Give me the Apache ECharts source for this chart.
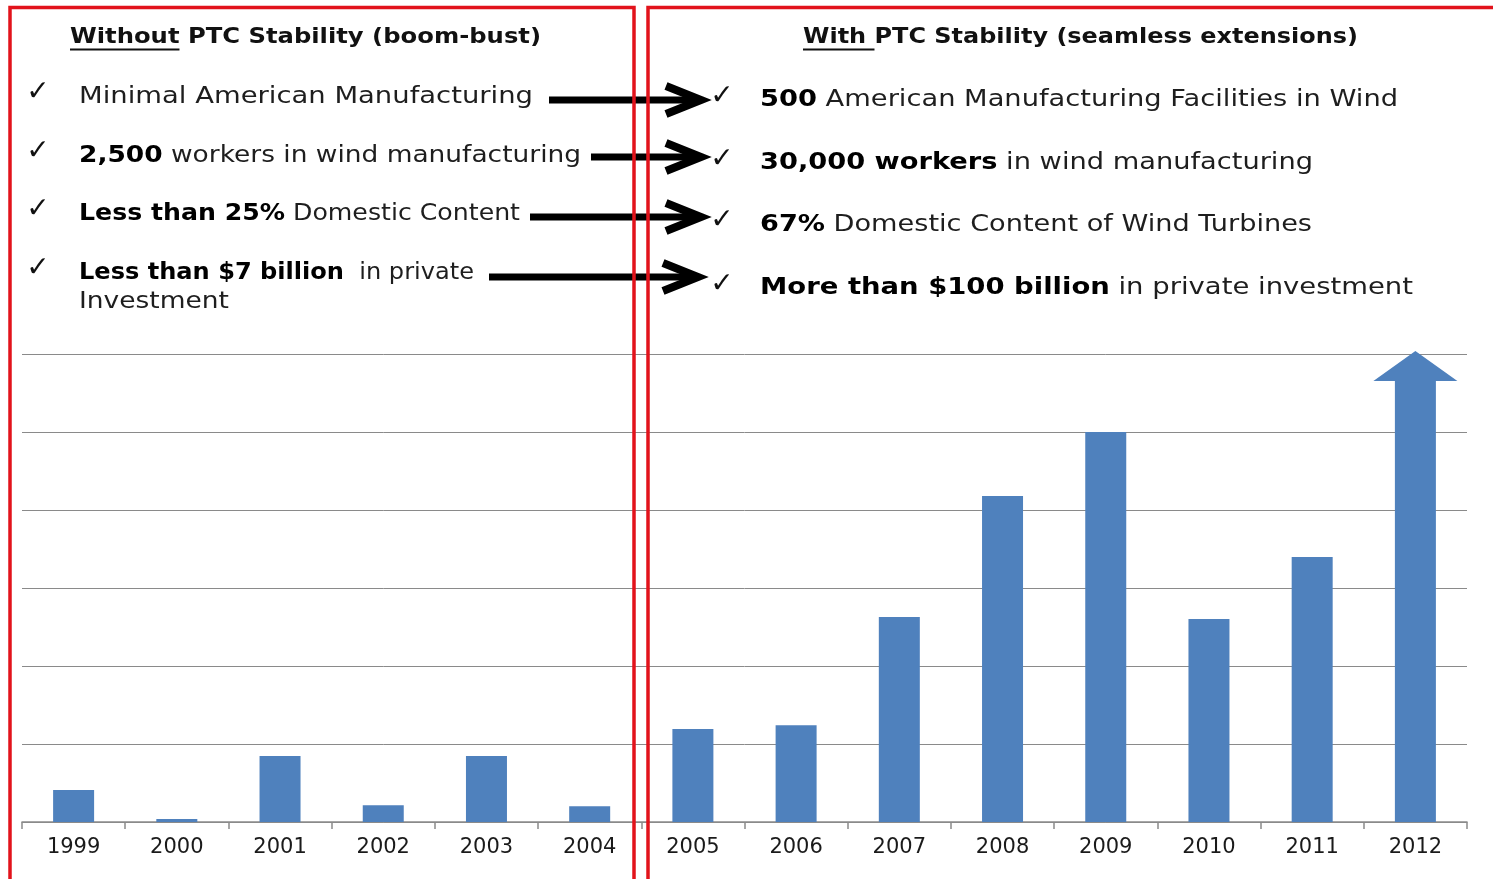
<!DOCTYPE html>
<html>
<head>
<meta charset="utf-8">
<title>Wind manufacturing and PTC stability</title>
<script src="https://cdn.jsdelivr.net/npm/echarts@6/dist/echarts.min.js"></script>
<style>
  html, body { margin: 0; padding: 0; background: #ffffff; }
  #chart { width: 1493px; height: 879px; }
</style>
</head>
<body>
<div id="chart"></div>
<script>
// Annual US wind capacity installed (MW), by year
const years = ['1999', '2000', '2001', '2002', '2003', '2004', '2005', '2006', '2007', '2008', '2009', '2010', '2011', '2012'];
const installedMW = [820, 77, 1692, 430, 1692, 405, 2385, 2480, 5256, 8359, 10000, 5205, 6795, 12080];
// The last year is drawn as an upward arrow instead of a plain bar
const arrowYear = '2012';
const yTicks = { min: 0, max: 12000, interval: 2000 };

// Bullet texts: [text, bold, underlined] segments per line
const leftTitle = [['Without', true, true], [' PTC Stability (boom-bust)', true]];
const rightTitle = [['With ', true, true], ['PTC Stability (seamless extensions)', true]];
const leftBullets = [
  [['Minimal American Manufacturing', false]],
  [['2,500', true], [' workers in wind manufacturing', false]],
  [['Less than 25%', true], [' Domestic Content', false]],
  [['Less than $7 billion', true], ['  in private', false]]
];
const leftWrap = [['Investment', false]];
const rightBullets = [
  [['500', true], [' American Manufacturing Facilities in Wind', false]],
  [['30,000 workers', true], [' in wind manufacturing', false]],
  [['67%', true], [' Domestic Content of Wind Turbines', false]],
  [['More than $100 billion', true], [' in private investment', false]]
];

const FONT = '"DejaVu Sans", Verdana, sans-serif';
const measureCtx = document.createElement('canvas').getContext('2d');
function segWidth(text, size, bold) {
  measureCtx.font = (bold ? 'bold ' : '') + size + 'px ' + FONT;
  return measureCtx.measureText(text).width;
}

const graphics = [];

// A line of mixed bold/regular text, stretched horizontally to span [x, right]
function textLine(x, y, right, segs, size, colorN, colorB) {
  let w = 0;
  let str = '';
  segs.forEach(s => { w += segWidth(s[0], size, s[1]); str += '{' + (s[1] ? 'b' : 'n') + '|' + s[0] + '}'; });
  const sx = (right - x) / w;
  graphics.push({
    type: 'text', x: x, y: y, scaleX: sx, z: 20,
    style: {
      text: str, x: 0, y: 0, align: 'left', verticalAlign: 'middle',
      rich: {
        b: { fontFamily: FONT, fontSize: size, fontWeight: 'bold', fill: colorB },
        n: { fontFamily: FONT, fontSize: size, fontWeight: 'normal', fill: colorN }
      }
    }
  });
  // underline for flagged segments
  let cx = x;
  segs.forEach(s => {
    const sw = segWidth(s[0], size, s[1]) * sx;
    if (s[2]) {
      graphics.push({ type: 'line', z: 20, shape: { x1: cx, y1: y + size * 0.55, x2: cx + sw, y2: y + size * 0.55 }, style: { stroke: '#111', lineWidth: 2 } });
    }
    cx += sw;
  });
  return sx;
}

function check(x, y) {
  graphics.push({ type: 'text', x: x, y: y, z: 20, style: { text: '\u2713', x: 0, y: 0, align: 'center', verticalAlign: 'middle', fontFamily: FONT, fontSize: 28, fill: '#111' } });
}

function arrow(x0, tip, y) {
  graphics.push({ type: 'line', z: 25, shape: { x1: x0, y1: y, x2: tip - 5, y2: y }, style: { stroke: '#000', lineWidth: 7 } });
  graphics.push({ type: 'polyline', z: 25, shape: { points: [[tip - 38, y - 14], [tip - 3, y], [tip - 38, y + 14]] }, style: { stroke: '#000', lineWidth: 8, fill: null, lineJoin: 'miter', lineCap: 'butt' } });
}

// titles
textLine(70, 38, 541, leftTitle, 21, '#111', '#111');
textLine(803, 38, 1358, rightTitle, 21, '#111', '#111');

// left column
const leftY = [97, 156, 214, 273];
const leftRight = [533, 581, 520, 474];
const leftCheckY = [93, 152, 210, 269];
leftBullets.forEach((segs, i) => {
  check(38, leftCheckY[i]);
  textLine(79, leftY[i], leftRight[i], segs, 23, '#1e1e1e', '#000');
});
textLine(79, 302, 229, leftWrap, 23, '#1e1e1e', '#000');

// right column
const rightY = [100, 163, 225, 288];
const rightRight = [1398, 1313, 1312, 1413];
const rightCheckY = [97, 160, 221, 285];
rightBullets.forEach((segs, i) => {
  check(722, rightCheckY[i]);
  textLine(760, rightY[i], rightRight[i], segs, 23, '#1e1e1e', '#000');
});

// connecting arrows
arrow(549, 704, 100);
arrow(591, 704, 157);
arrow(530, 704, 217);
arrow(489, 701, 277);

// red frames around the two periods
graphics.push({ type: 'rect', z: 30, shape: { x: 10, y: 7.5, width: 624, height: 900 }, style: { stroke: '#e2131b', lineWidth: 3.5, fill: null } });
graphics.push({ type: 'rect', z: 30, shape: { x: 648, y: 7.5, width: 900, height: 900 }, style: { stroke: '#e2131b', lineWidth: 3.5, fill: null } });

const arrowIdx = years.indexOf(arrowYear);
const barData = installedMW.map((v, i) => (i === arrowIdx ? '-' : v));
const arrowData = [[arrowIdx, installedMW[arrowIdx]]];

const chart = echarts.init(document.getElementById('chart'), null, { renderer: 'canvas' });
chart.setOption({
  animation: false,
  backgroundColor: '#ffffff',
  grid: { left: 22, right: 26, top: 354, bottom: 57 },
  xAxis: {
    type: 'category',
    data: years,
    boundaryGap: true,
    axisLine: { lineStyle: { color: '#8a8a8a', width: 1.5 } },
    axisTick: { show: true, length: 7, lineStyle: { color: '#8a8a8a', width: 1.5 } },
    axisLabel: { color: '#1a1a1a', fontSize: 21, fontFamily: FONT, margin: 15 }
  },
  yAxis: {
    type: 'value',
    min: yTicks.min, max: yTicks.max, interval: yTicks.interval,
    axisLine: { show: false }, axisTick: { show: false }, axisLabel: { show: false },
    splitLine: { lineStyle: { color: '#8a8a8a', width: 1 } }
  },
  series: [
    {
      type: 'bar',
      data: barData,
      barWidth: 41,
      itemStyle: { color: '#4f81bd' }
    },
    {
      type: 'custom',
      data: arrowData,
      clip: false,
      renderItem: function (params, api) {
        const tip = api.coord([api.value(0), api.value(1)]);
        const base = api.coord([api.value(0), 0]);
        const cx = tip[0];
        const sw = 41 / 2, hw = 84 / 2, hh = 30;
        const ty = tip[1];
        return {
          type: 'polygon',
          shape: { points: [
            [cx - sw, base[1]], [cx - sw, ty + hh], [cx - hw, ty + hh], [cx, ty],
            [cx + hw, ty + hh], [cx + sw, ty + hh], [cx + sw, base[1]]
          ] },
          style: { fill: '#4f81bd' }
        };
      }
    }
  ],
  graphic: graphics
});
</script>
</body>
</html>
